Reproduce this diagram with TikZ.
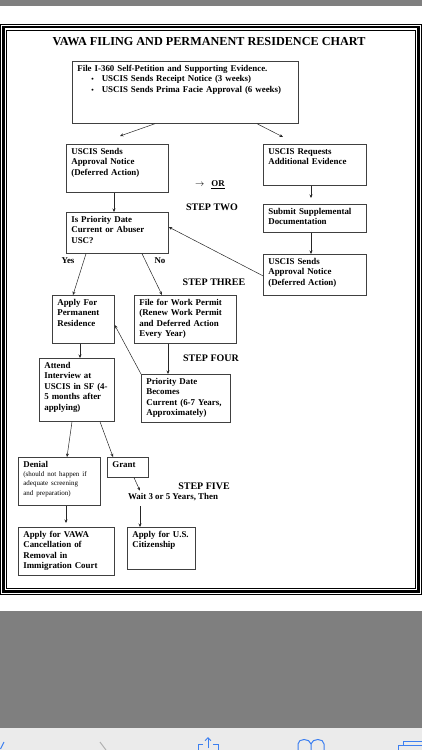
\documentclass[tikz,border=0pt]{standalone}
\usepackage{fontspec}
\setmainfont{Liberation Serif}
\usepackage{tikz}
\usetikzlibrary{arrows.meta,positioning}
\definecolor{screengray}{HTML}{7F7F7F}
\definecolor{barlight}{HTML}{EBEBEB}
\definecolor{iconblue}{HTML}{3C7FF0}
\tikzset{box/.style={draw=black!75, line width=0.7pt, anchor=north west, align=left,
        inner xsep=5pt, inner ysep=3pt, text height=7pt,
        font=\fontsize{8.9}{10.5}\selectfont\bfseries},
    steplabel/.style={font=\fontsize{10}{12}\selectfont\bfseries},
    answer/.style={font=\fontsize{8.9}{10.5}\selectfont\bfseries},
    flow/.style={draw=black!85, line width=0.5pt, -{Stealth[length=3.5pt,width=3pt]}},
    icon/.style={draw=iconblue, line width=1pt}}

\begin{document}
\begin{tikzpicture}[x=1pt,y=-1pt]
            \useasboundingbox (0,0) rectangle (422,750);
            % screen around the chart
            \fill[screengray] (0,0) rectangle (422,6);
            \fill[screengray] (0,611) rectangle (422,728);
            \fill[barlight] (0,728) rectangle (422,750);
            \draw[line width=0.8pt] (0.5,24) rectangle (421.5,594.5);
            \draw[line width=2.4pt] (3.5,27.2) rectangle (418.5,591.5);
            \draw[line width=0.8pt] (6.6,30.6) rectangle (415.4,588.2);
            % title
            \node[font=\fontsize{12.2}{14}\selectfont\bfseries] (title) at (209,42)
            {VAWA FILING AND PERMANENT RESIDENCE CHART};
            % step one
            \node[box, text width=216pt, text depth=49pt] (petition) at (72,61)
            {File I-360 Self-Petition and Supporting Evidence.\\
            \hspace*{14pt}{\scriptsize\textbullet}\hspace{8pt}USCIS Sends Receipt Notice (3 weeks)\\
            \hspace*{14pt}{\scriptsize\textbullet}\hspace{8pt}USCIS Sends Prima Facie Approval (6 weeks)};
            \node[box, text width=92pt, text depth=35pt] (approve) at (66,144)
            {USCIS Sends\\Approval Notice\\(Deferred Action)};
            \node[box, text width=93pt, text depth=28pt] (request) at (263,144)
            {USCIS Requests\\Additional Evidence};
            \node[answer] (or) at (210,185) {$\rightarrow$\hspace{7pt}\underline{OR}};
            % step two
            \node[steplabel] (steptwo) at (212,207) {STEP TWO};
            \node[box, text width=92pt, text depth=28pt] (priority) at (66,212)
            {Is Priority Date\\Current or Abuser\\USC?};
            \node[box, text width=93pt, text depth=15pt] (supplement) at (263,204)
            {Submit Supplemental\\Documentation};
            \node[box, text width=93pt, text depth=28pt] (approvetwo) at (263,254)
            {USCIS Sends\\Approval Notice\\(Deferred Action)};
            \node[answer] (yes) at (68,261) {Yes};
            \node[answer] (no) at (160,261) {No};
            % step three
            \node[steplabel] (stepthree) at (214,282) {STEP THREE};
            \node[box, text width=52pt, text depth=35pt] (residence) at (52,295)
            {Apply For\\Permanent\\Residence};
            \node[box, text width=92pt, text depth=35pt] (workpermit) at (134,295)
            {File for Work Permit\\(Renew Work Permit\\and Deferred Action\\Every Year)};
            % step four
            \node[steplabel] (stepfour) at (211,358) {STEP FOUR};
            \node[box, text width=65pt, text depth=50pt] (interview) at (39,358)
            {Attend\\Interview at\\USCIS in SF (4-\\5 months after\\applying)};
            \node[box, text width=79pt, text depth=35pt] (current) at (141,374)
            {Priority Date\\Becomes\\Current (6-7 Years,\\Approximately)};
            % step five
            \node[box, text width=72pt, text depth=35pt] (denial) at (18,457)
            {Denial\\[1pt]{\fontsize{7}{8.5}\selectfont\mdseries (should not happen if\\
            adequate screening\\and preparation)}};
            \node[box, text width=31pt, text depth=7pt] (grant) at (107,457) {Grant};
            \node[steplabel] (stepfive) at (204,486) {STEP FIVE};
            \node[answer] (wait) at (173,497) {Wait 3 or 5 Years, Then};
            \node[box, text width=86pt, text depth=35pt] (cancel) at (18,527)
            {Apply for VAWA\\Cancellation of\\Removal in\\Immigration Court};
            \node[box, text width=58pt, text depth=29pt] (citizen) at (127,527)
            {Apply for U.S.\\Citizenship};
            % connectors
            \draw[flow] ([xshift=83pt]petition.south west) -- ([xshift=54pt,yshift=8pt]approve.north west);
            \draw[flow] ([xshift=185pt]petition.south west) -- ([xshift=20pt,yshift=7pt]request.north west);
            \draw[flow] ([xshift=48pt]approve.south west) -- ([xshift=48pt]priority.north west);
            \draw[flow] ([xshift=48pt]request.south west) -- ([xshift=48pt,yshift=6pt]supplement.north west);
            \draw[flow] ([xshift=48pt]supplement.south west) -- ([xshift=48pt]approvetwo.north west);
            \draw[flow] ([yshift=-1pt]approvetwo.west) -- ([yshift=-15pt]priority.north east);
            \draw[flow] ([xshift=20pt]priority.south west) -- ([xshift=21pt]residence.north west);
            \draw[flow] ([xshift=76pt]priority.south west) -- ([xshift=28pt]workpermit.north west);
            \draw[flow] ([xshift=34pt]workpermit.south west) -- ([xshift=27pt]current.north west);
            \draw[flow] (current.north west) -- ([yshift=-30pt]residence.north east);
            \draw[flow] ([xshift=28pt]residence.south west) -- ([xshift=41pt]interview.north west);
            \draw[flow] ([xshift=33pt]interview.south west) -- ([xshift=49pt]denial.north west);
            \draw[flow] ([xshift=61pt]interview.south west) -- ([xshift=6pt]grant.north west);
            \draw[flow] ([xshift=27pt]grant.south west) -- ([xshift=-33pt,yshift=-1pt]wait.north);
            \draw[flow] ([xshift=48pt]denial.south west) -- ([xshift=48pt,yshift=4pt]cancel.north west);
            \draw[flow] ([xshift=-33pt,yshift=-2pt]wait.south) -- ([xshift=13pt]citizen.north west);
            % toolbar icons, cut off by the bottom edge
            \draw[icon] (4,742) -- (0.5,749);
            \draw[draw=black!30, line width=1pt] (100,742) -- (106,750);
            \draw[icon] (203,744) -- (198,744) -- (198,751);
            \draw[icon] (213,744) -- (218,744) -- (218,751);
            \draw[icon, -{Straight Barb[length=3pt]}] (208,748) -- (208,737);
            \draw[icon] (298,751) -- (298,744) .. controls (298,738) and (310,738) .. (311,744) -- (311,751);
            \draw[icon] (311,744) .. controls (312,738) and (324,738) .. (324,744) -- (324,751);
            \draw[icon] (398,751) -- (398,745) -- (422,745);
            \draw[icon] (403,745) -- (403,741) -- (422,741);
        \end{tikzpicture}
\end{document}
